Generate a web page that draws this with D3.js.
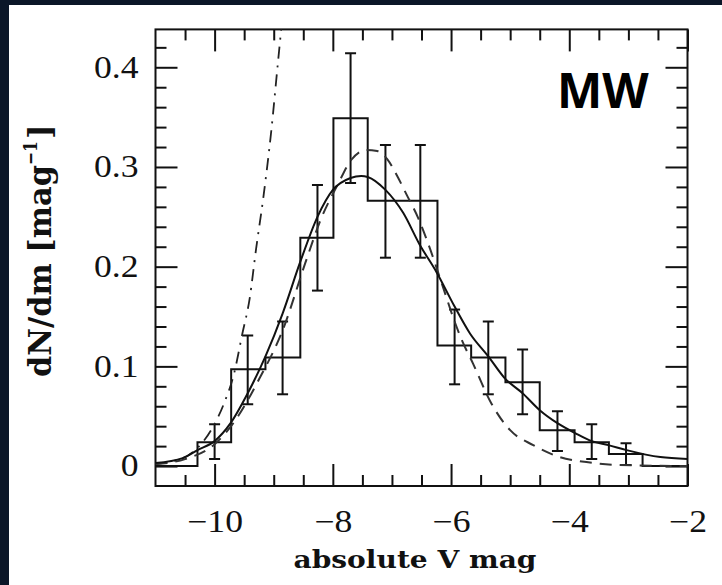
<!DOCTYPE html>
<html>
<head>
<meta charset="utf-8">
<script src="https://cdn.jsdelivr.net/npm/d3@7"></script>
<style>
  html, body { margin: 0; padding: 0; background: #0b1628; }
  svg { display: block; }
</style>
</head>
<body>
<div class="graph"></div>
<script>
// histogram: bin edges (mag) and heights (dN/dm), one height per interval
var histEdges = [-11, -10.29, -9.72, -9.14, -8.55, -7.99, -7.41, -6.82, -6.23, -5.66, -5.08, -4.50, -3.91, -3.33, -2.76, -2];
var histVals  = [0, 0.024, 0.097, 0.109, 0.229, 0.349, 0.266, 0.266, 0.121, 0.109, 0.084, 0.036, 0.024, 0.012, 0];

// error bars at bin centres
var errX  = [-10.0, -9.44, -8.85, -8.26, -7.70, -7.11, -6.52, -5.94, -5.37, -4.79, -4.20, -3.62, -3.04];
var errLo = [0.007, 0.062, 0.072, 0.176, 0.284, 0.209, 0.209, 0.082, 0.072, 0.052, 0.015, 0.007, 0.001];
var errHi = [0.042, 0.131, 0.145, 0.282, 0.414, 0.322, 0.322, 0.157, 0.145, 0.117, 0.055, 0.042, 0.023];

// solid model curve
var solidX = [-11.0, -10.54, -10.29, -10.0, -9.73, -9.44, -9.14, -8.85, -8.55, -8.26, -8.0, -7.70, -7.52, -7.41, -7.11, -6.81, -6.53, -6.25, -5.94, -5.68, -5.37, -5.09, -4.79, -4.50, -4.20, -3.90, -3.62, -3.34, -3.03, -2.46, -2.0];
var solidY = [0.003, 0.008, 0.016, 0.025, 0.043, 0.073, 0.110, 0.153, 0.205, 0.250, 0.277, 0.289, 0.291, 0.290, 0.277, 0.254, 0.222, 0.195, 0.160, 0.133, 0.110, 0.088, 0.073, 0.056, 0.043, 0.033, 0.025, 0.021, 0.016, 0.009, 0.007];

// dashed model curve
var dashX = [-11.0, -10.5, -10.0, -9.66, -9.24, -8.85, -8.47, -8.2, -7.92, -7.69, -7.44, -7.25, -7.08, -6.92, -6.75, -6.55, -6.38, -6.15, -5.94, -5.83, -5.63, -5.32, -5.0, -4.61, -4.16, -3.71, -3.14, -2.0];
var dashY = [0.002, 0.007, 0.022, 0.045, 0.088, 0.136, 0.203, 0.248, 0.282, 0.307, 0.317, 0.316, 0.308, 0.292, 0.272, 0.248, 0.222, 0.182, 0.145, 0.128, 0.103, 0.063, 0.036, 0.021, 0.009, 0.004, 0.001, 0.0];

// dash-dot curve (steep, leaves the top of the box)
var ddX = [-11.0, -10.77, -10.37, -10.06, -9.84, -9.67, -9.53, -9.41, -9.30, -9.17, -9.04, -8.93, -8.87];
var ddY = [0.002, 0.004, 0.014, 0.036, 0.063, 0.093, 0.133, 0.167, 0.217, 0.272, 0.337, 0.404, 0.44];

var xTicks = [-10, -8, -6, -4, -2];
var yTicks = [0, 0.1, 0.2, 0.3, 0.4];
var xTitle = "absolute V mag";
var panelLabel = "MW";

var W = 722, H = 585;
var margin = { top: 29.4, right: 34.5, bottom: 99, left: 155.5 },
  width = W - margin.left - margin.right,
  height = H - margin.top - margin.bottom;

var ink = "#111";
var tickFont = "'Liberation Serif', serif";
var titleFont = "'DejaVu Serif', serif";

var x = d3.scaleLinear().domain([-11, -2]).range([0, width]);
var y = d3.scaleLinear().domain([-0.02, 0.438]).range([height, 0]);

var svg = d3.select(".graph").append("svg")
  .attr("width", W).attr("height", H);

// slide background + white panel
svg.append("rect").attr("width", W).attr("height", H).attr("fill", "#0b1628");
svg.append("rect").attr("x", 9).attr("y", 5).attr("width", W - 9).attr("height", H - 5).attr("fill", "#fff");

var g = svg.append("g")
  .attr("transform", "translate(" + margin.left + "," + margin.top + ")");

g.append("defs").append("clipPath").attr("id", "clip")
  .append("rect").attr("width", width).attr("height", height);

var xMinor = d3.range(-10.5, -2, 0.5).filter(function(v) { return Math.abs(v / 2 - Math.round(v / 2)) > 1e-6; });
var yMinor = d3.range(0.02, 0.43, 0.02).filter(function(v) { return Math.abs(v * 10 - Math.round(v * 10)) > 1e-6; });

function noDomain(sel) { sel.select(".domain").remove(); }

function drawAxis(axis, tr, vals, size, labels) {
  var a = g.append("g").attr("transform", tr)
    .call(axis.tickValues(vals).tickSize(-size).tickSizeOuter(0)
      .tickFormat(labels ? d3.format("") : function() { return ""; }))
    .call(noDomain);
  a.selectAll("line").attr("stroke", ink).attr("stroke-width", 2);
  return a;
}

// minor ticks on all four sides
drawAxis(d3.axisBottom(x), "translate(0," + height + ")", xMinor, 11, false);
drawAxis(d3.axisTop(x), "translate(0,0)", xMinor, 11, false);
drawAxis(d3.axisLeft(y), "translate(0,0)", yMinor, 11, false);
drawAxis(d3.axisRight(y), "translate(" + width + ",0)", yMinor, 11, false);

// major ticks
var bx = drawAxis(d3.axisBottom(x), "translate(0," + height + ")", xTicks, 22, true);
drawAxis(d3.axisTop(x), "translate(0,0)", xTicks, 22, false);
var ly = drawAxis(d3.axisLeft(y).tickPadding(17), "translate(0,0)", yTicks, 22, true);
drawAxis(d3.axisRight(y), "translate(" + width + ",0)", yTicks, 22, false);

bx.selectAll("text")
  .attr("y", 46).attr("dy", null)
  .attr("font-family", tickFont).attr("font-size", 31).attr("fill", ink);
ly.selectAll("text")
  .attr("font-family", tickFont).attr("font-size", 31).attr("fill", ink);

// widen the serif tick labels a bit
g.selectAll(".tick text").each(function() {
  var t = d3.select(this);
  if (!t.text()) return;
  var w = this.getComputedTextLength();
  t.attr("textLength", w * 1.15).attr("lengthAdjust", "spacingAndGlyphs");
});

// frame
g.append("rect")
  .attr("width", width).attr("height", height)
  .attr("fill", "none").attr("stroke", ink).attr("stroke-width", 2);

var plot = g.append("g").attr("clip-path", "url(#clip)");

// histogram outline
var histPts = histEdges.map(function(e, i) {
  return [e, i < histVals.length ? histVals[i] : histVals[histVals.length - 1]];
});
var stepLine = d3.line()
  .x(function(d) { return x(d[0]); })
  .y(function(d) { return y(d[1]); })
  .curve(d3.curveStepAfter);
plot.append("path").datum(histPts)
  .attr("d", stepLine)
  .attr("fill", "none").attr("stroke", ink).attr("stroke-width", 2);

// error bars
var cap = 5.5;
var eb = plot.selectAll(".err").data(errX).enter().append("g").attr("class", "err")
  .attr("stroke", ink).attr("stroke-width", 2);
eb.append("line")
  .attr("x1", function(d) { return x(d); }).attr("x2", function(d) { return x(d); })
  .attr("y1", function(d, i) { return y(errLo[i]); })
  .attr("y2", function(d, i) { return y(errHi[i]); });
eb.append("line")
  .attr("x1", function(d) { return x(d) - cap; }).attr("x2", function(d) { return x(d) + cap; })
  .attr("y1", function(d, i) { return y(errLo[i]); })
  .attr("y2", function(d, i) { return y(errLo[i]); });
eb.append("line")
  .attr("x1", function(d) { return x(d) - cap; }).attr("x2", function(d) { return x(d) + cap; })
  .attr("y1", function(d, i) { return y(errHi[i]); })
  .attr("y2", function(d, i) { return y(errHi[i]); });

// model curves
var curve = d3.line()
  .x(function(d) { return x(d[0]); })
  .y(function(d) { return y(d[1]); })
  .curve(d3.curveMonotoneX);

function zip(a, b) { return a.map(function(v, i) { return [v, b[i]]; }); }

plot.append("path").datum(zip(ddX, ddY))
  .attr("d", curve).attr("fill", "none")
  .attr("stroke", "#222").attr("stroke-width", 1.8)
  .attr("stroke-dasharray", "12,7,2,7");

plot.append("path").datum(zip(dashX, dashY))
  .attr("d", curve).attr("fill", "none")
  .attr("stroke", "#333").attr("stroke-width", 2)
  .attr("stroke-dasharray", "12,8");

plot.append("path").datum(zip(solidX, solidY))
  .attr("d", curve).attr("fill", "none")
  .attr("stroke", ink).attr("stroke-width", 2);

// axis titles (bold slab serif, stretched to the reference widths)
svg.append("text")
  .attr("x", 415).attr("y", 568)
  .attr("text-anchor", "middle")
  .attr("font-family", titleFont).attr("font-weight", "bold").attr("font-size", 25)
  .attr("textLength", 243).attr("lengthAdjust", "spacingAndGlyphs")
  .attr("fill", ink)
  .text(xTitle);

var yt = svg.append("text")
  .attr("transform", "translate(51,377) rotate(-90)")
  .attr("font-family", titleFont).attr("font-weight", "bold").attr("font-size", 31)
  .attr("fill", ink);
yt.append("tspan").attr("textLength", 212).attr("lengthAdjust", "spacingAndGlyphs")
  .text("dN/dm [mag");
yt.append("tspan").attr("dy", -14).attr("font-size", 19)
  .attr("textLength", 24).attr("lengthAdjust", "spacingAndGlyphs").text("\u22121");
yt.append("tspan").attr("dy", 14).attr("dx", 2).text("]");

// panel label
svg.append("text")
  .attr("x", 557).attr("y", 108)
  .attr("font-family", "'Open Sans', sans-serif").attr("font-weight", 700).attr("font-size", 48)
  .attr("fill", "#000")
  .text(panelLabel);
</script>
</body>
</html>
